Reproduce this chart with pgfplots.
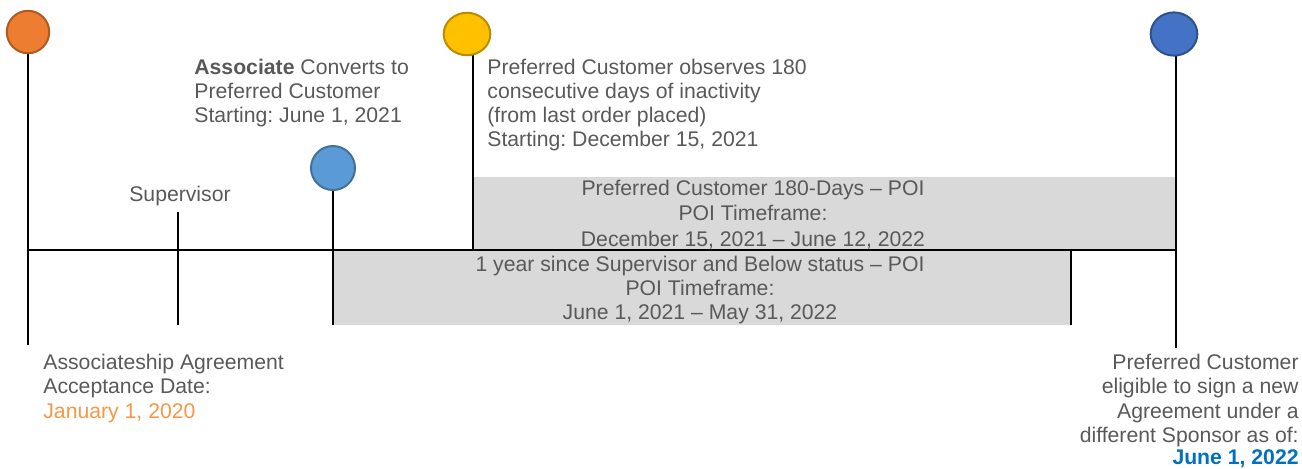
\documentclass[border=0pt]{standalone}
\usepackage{fontspec}
\setmainfont{Liberation Sans}
\usepackage{pgfplots}
\pgfplotsset{compat=1.18}
\frenchspacing
\definecolor{tgray}{HTML}{595959}
\definecolor{boxgray}{HTML}{D9D9D9}
\definecolor{orfill}{HTML}{ED7D31}\definecolor{ordraw}{HTML}{AE5A21}
\definecolor{yefill}{HTML}{FFC000}\definecolor{yedraw}{HTML}{BC8C00}
\definecolor{lbfill}{HTML}{5B9BD5}\definecolor{lbdraw}{HTML}{41719C}
\definecolor{dbfill}{HTML}{4472C4}\definecolor{dbdraw}{HTML}{2F528F}
\definecolor{ortext}{HTML}{F79646}
\definecolor{bltext}{HTML}{0070C0}
\newcommand\tl[3]{\node[anchor=base west,inner sep=0pt,text=tgray,font=\fontsize{10.6}{12}\selectfont\frenchspacing] at (axis cs:#1,#2) {#3};}
\newcommand\tr[3]{\node[anchor=base east,inner sep=0pt,text=tgray,font=\fontsize{10.6}{12}\selectfont\frenchspacing] at (axis cs:#1,#2) {#3};}
\newcommand\tc[3]{\node[anchor=base,inner sep=0pt,text=tgray,font=\fontsize{10.6}{12}\selectfont\frenchspacing] at (axis cs:#1,#2) {#3};}
\begin{document}
\begin{tikzpicture}
\begin{axis}[
  width=651pt, height=234pt, scale only axis,
  xmin=0, xmax=1302, ymin=0, ymax=468, y dir=reverse,
  enlargelimits=false, hide axis, clip=false]
% gray POI boxes
\addplot[fill=boxgray, draw=none] coordinates {(473,177) (1175,177) (1175,250) (473,250) (473,177)};
\addplot[fill=boxgray, draw=none] coordinates {(333,251) (1071,251) (1071,325) (333,325) (333,251)};
% lines
\addplot[black, line width=1.4pt] coordinates {(28,250) (1175,250)};
\addplot[black, line width=1pt] coordinates {(28,53) (28,345)};
\addplot[black, line width=1pt] coordinates {(178,212) (178,325)};
\addplot[black, line width=1pt] coordinates {(333,190) (333,325)};
\addplot[black, line width=1pt] coordinates {(473,55) (473,250)};
\addplot[black, line width=1pt] coordinates {(1071,250) (1071,325)};
\addplot[black, line width=1pt] coordinates {(1176,55) (1176,348)};
% circles
\addplot[only marks, mark=*, mark size=10.6pt, mark options={fill=orfill, draw=ordraw, line width=1pt}] coordinates {(28,32)};
\addplot[only marks, mark=*, mark size=10.6pt, mark options={xscale=1.1, fill=yefill, draw=yedraw, line width=1pt}] coordinates {(467,34)};
\addplot[only marks, mark=*, mark size=11pt, mark options={fill=lbfill, draw=lbdraw, line width=1pt}] coordinates {(333,168)};
\addplot[only marks, mark=*, mark size=10.8pt, mark options={xscale=1.08, fill=dbfill, draw=dbdraw, line width=1pt}] coordinates {(1174,34)};
% texts
\tl{194}{74}{\textbf{Associate} Converts to}
\tl{194}{98.5}{Preferred Customer}
\tl{194}{122.5}{Starting: June 1, 2021}
\tl{487}{74}{Preferred Customer observes 180}
\tl{487}{98.5}{consecutive days of inactivity}
\tl{487}{122.5}{(from last order placed)}
\tl{487}{146.5}{Starting: December 15, 2021}
\tc{180}{201}{Supervisor}
\tc{753}{195}{Preferred Customer 180-Days – POI}
\tc{753}{220.5}{POI Timeframe:}
\tc{753}{246}{December 15, 2021 – June 12, 2022}
\tc{700}{271}{1 year since Supervisor and Below status – POI}
\tc{700}{295.5}{POI Timeframe:}
\tc{700}{319}{June 1, 2021 – May 31, 2022}
\tl{43}{369}{Associateship Agreement}
\tl{43}{393.5}{Acceptance Date:}
\tl{43}{418}{\textcolor{ortext}{January 1, 2020}}
\tr{1299}{369}{Preferred Customer}
\tr{1299}{393.5}{eligible to sign a new}
\tr{1299}{418}{Agreement under a}
\tr{1299}{442}{different Sponsor as of:}
\tr{1299}{464}{\textcolor{bltext}{\textbf{June 1, 2022}}}
\coordinate (BBa) at (axis cs:0,468);
\coordinate (BBb) at (axis cs:1302,0);
\end{axis}
\pgfresetboundingbox
\useasboundingbox (BBa) rectangle (BBb);
\end{tikzpicture}
\end{document}
